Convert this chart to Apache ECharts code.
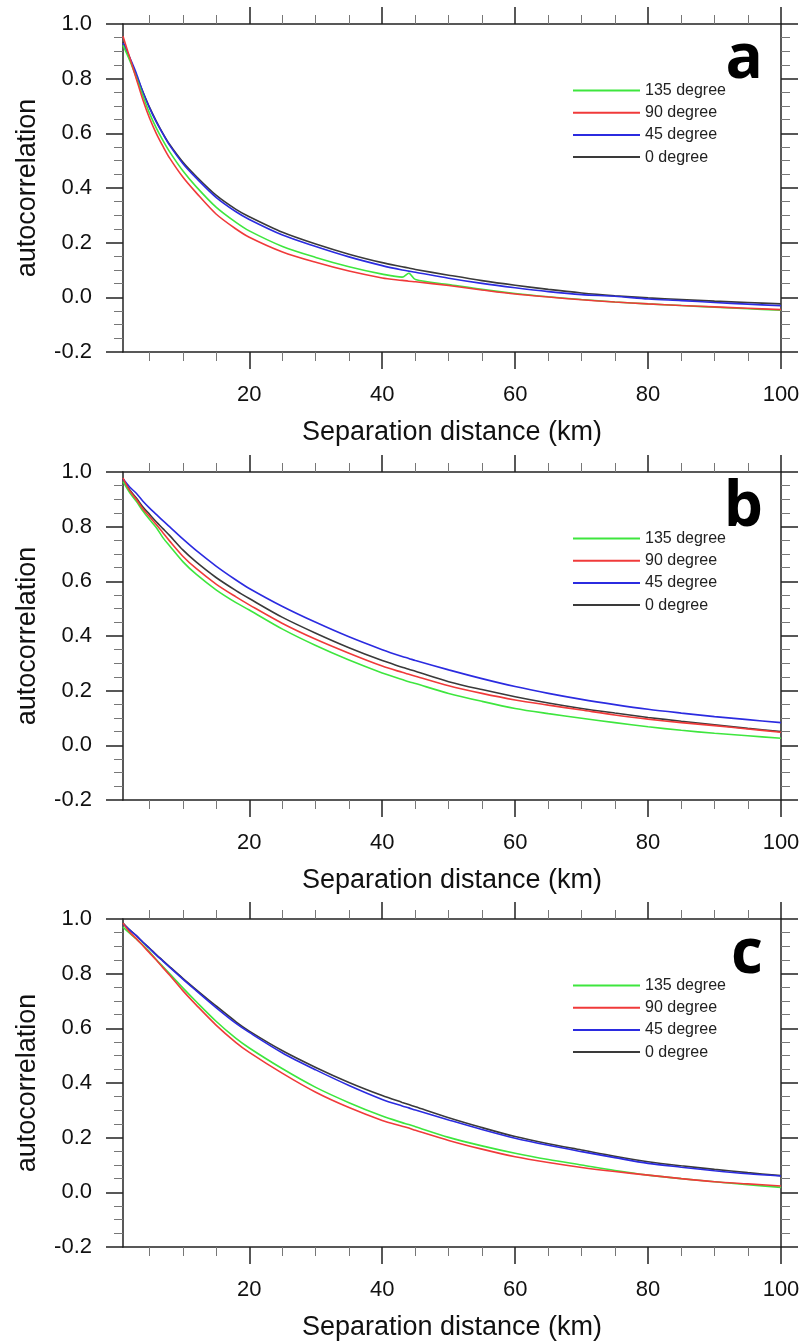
<!DOCTYPE html>
<html>
<head>
<meta charset="utf-8">
<script src="https://cdn.jsdelivr.net/npm/echarts@6/dist/echarts.min.js"></script>
<style>
  html, body { margin: 0; padding: 0; background: #fff; }
  #chart { width: 805px; height: 1344px; }
</style>
</head>
<body>
<div id="chart"></div>
<script>
// ---------------- data ----------------
const distanceKm = [1,2,3,4,5,6,7,8,10,12,15,18,20,25,30,35,40,43,44,45,50,55,60,65,70,75,80,85,90,95,100];

const seriesNames = ['135 degree', '90 degree', '45 degree', '0 degree'];
const panelLetters = ['a', 'b', 'c'];

const xMajorTicks = [20, 40, 60, 80, 100];
const xMinorTicks = [5, 10, 15, 25, 30, 35, 45, 50, 55, 65, 70, 75, 85, 90, 95];

// panel a
const a135 = [0.922,0.868,0.805,0.737,0.673,0.620,0.574,0.533,0.463,0.405,0.330,0.274,0.243,0.186,0.146,0.112,0.085,0.074,0.088,0.065,0.047,0.029,0.014,0.002,-0.008,-0.017,-0.024,-0.030,-0.036,-0.042,-0.047];
const a90  = [0.955,0.878,0.800,0.722,0.655,0.600,0.553,0.510,0.440,0.383,0.305,0.250,0.220,0.166,0.128,0.096,0.071,0.062,0.059,0.057,0.043,0.027,0.012,0.001,-0.009,-0.017,-0.024,-0.030,-0.035,-0.040,-0.045];
const a45  = [0.930,0.878,0.820,0.750,0.692,0.642,0.598,0.557,0.490,0.437,0.366,0.313,0.285,0.228,0.186,0.148,0.116,0.100,0.096,0.092,0.070,0.051,0.035,0.021,0.010,0.004,-0.006,-0.012,-0.019,-0.025,-0.031];
const a0   = [0.935,0.875,0.812,0.752,0.695,0.645,0.600,0.560,0.495,0.443,0.374,0.322,0.295,0.238,0.195,0.158,0.127,0.112,0.107,0.102,0.081,0.061,0.044,0.029,0.016,0.006,-0.002,-0.008,-0.014,-0.019,-0.024];

// panel b
const b135 = [0.965,0.925,0.893,0.857,0.826,0.797,0.760,0.730,0.672,0.626,0.569,0.522,0.495,0.425,0.365,0.312,0.265,0.241,0.233,0.226,0.190,0.161,0.135,0.116,0.099,0.083,0.068,0.055,0.044,0.035,0.026];
const b90  = [0.978,0.932,0.900,0.865,0.836,0.808,0.778,0.748,0.692,0.647,0.590,0.543,0.514,0.446,0.388,0.337,0.290,0.267,0.260,0.253,0.218,0.190,0.166,0.147,0.129,0.111,0.096,0.083,0.072,0.060,0.048];
const b45  = [0.975,0.945,0.922,0.893,0.868,0.845,0.822,0.800,0.755,0.713,0.656,0.605,0.574,0.508,0.450,0.397,0.350,0.325,0.318,0.310,0.276,0.244,0.215,0.190,0.168,0.149,0.132,0.118,0.105,0.094,0.083];
const b0   = [0.975,0.935,0.905,0.872,0.845,0.818,0.793,0.768,0.715,0.671,0.614,0.566,0.537,0.468,0.410,0.357,0.310,0.286,0.278,0.271,0.233,0.204,0.178,0.155,0.135,0.118,0.102,0.088,0.075,0.062,0.050];

// panel c
const c135 = [0.970,0.948,0.927,0.905,0.880,0.852,0.826,0.800,0.748,0.698,0.626,0.563,0.528,0.452,0.384,0.328,0.279,0.255,0.248,0.240,0.201,0.170,0.143,0.120,0.100,0.080,0.063,0.050,0.039,0.028,0.018];
const c90  = [0.985,0.952,0.928,0.902,0.876,0.850,0.822,0.795,0.738,0.686,0.612,0.548,0.512,0.435,0.366,0.310,0.263,0.242,0.235,0.227,0.190,0.158,0.130,0.109,0.091,0.076,0.063,0.050,0.039,0.031,0.023];
const c45  = [0.982,0.960,0.939,0.915,0.892,0.868,0.846,0.824,0.780,0.738,0.676,0.618,0.585,0.510,0.448,0.391,0.340,0.316,0.309,0.301,0.265,0.230,0.198,0.172,0.149,0.127,0.106,0.092,0.079,0.068,0.060];
const c0   = [0.985,0.960,0.939,0.915,0.893,0.870,0.848,0.826,0.783,0.742,0.682,0.624,0.590,0.518,0.457,0.402,0.354,0.329,0.321,0.313,0.273,0.237,0.204,0.178,0.155,0.132,0.112,0.097,0.084,0.072,0.061];

const panelValues = [
  [a135, a90, a45, a0],
  [b135, b90, b45, b0],
  [c135, c90, c45, c0]
];

// ---------------- styling ----------------
const colors = ['#3ee63e', '#f03a3a', '#2b2be0', '#3a3a3a'];
const FONT = 'Liberation Sans, Arial, Helvetica, sans-serif';
const AXIS_COLOR = '#222';
const MINOR_COLOR = '#777';
const panelTops = [24, 472, 919];
const GRID_LEFT = 123, GRID_WIDTH = 658, GRID_HEIGHT = 328;

const chart = echarts.init(document.getElementById('chart'), null, { renderer: 'canvas' });

const grid = [], xAxis = [], yAxis = [], series = [], legend = [], graphic = [];

panelTops.forEach((top, p) => {
  grid.push({ left: GRID_LEFT, top: top, width: GRID_WIDTH, height: GRID_HEIGHT, containLabel: false });

  const xBase = {
    gridIndex: p, type: 'value', min: 1, max: 100,
    splitLine: { show: false }, minorSplitLine: { show: false }
  };
  const xMainIndex = xAxis.length;
  // bottom, major
  xAxis.push(Object.assign({}, xBase, {
    position: 'bottom',
    axisLine: { show: true, onZero: false, lineStyle: { color: AXIS_COLOR, width: 1.5 } },
    axisTick: { show: true, customValues: xMajorTicks, length: 17, lineStyle: { color: AXIS_COLOR, width: 1.5 } },
    axisLabel: { show: true, customValues: xMajorTicks, margin: 32, fontSize: 22, color: '#111', fontFamily: FONT },
    name: 'Separation distance (km)', nameLocation: 'middle', nameGap: 67,
    nameTextStyle: { fontSize: 27, color: '#111', fontFamily: FONT }
  }));
  // bottom, minor
  xAxis.push(Object.assign({}, xBase, {
    position: 'bottom',
    axisLine: { show: false, onZero: false },
    axisTick: { show: true, customValues: xMinorTicks, length: 9, lineStyle: { color: MINOR_COLOR, width: 1 } },
    axisLabel: { show: false }
  }));
  // top, major
  xAxis.push(Object.assign({}, xBase, {
    position: 'top',
    axisLine: { show: true, onZero: false, lineStyle: { color: AXIS_COLOR, width: 1.5 } },
    axisTick: { show: true, customValues: xMajorTicks, length: 17, lineStyle: { color: AXIS_COLOR, width: 1.5 } },
    axisLabel: { show: false }
  }));
  // top, minor
  xAxis.push(Object.assign({}, xBase, {
    position: 'top',
    axisLine: { show: false, onZero: false },
    axisTick: { show: true, customValues: xMinorTicks, length: 9, lineStyle: { color: MINOR_COLOR, width: 1 } },
    axisLabel: { show: false }
  }));

  const yBase = {
    gridIndex: p, type: 'value', min: -0.2, max: 1.0, interval: 0.2,
    axisLine: { show: true, onZero: false, lineStyle: { color: AXIS_COLOR, width: 1.5 } },
    axisTick: { show: true, length: 17, lineStyle: { color: AXIS_COLOR, width: 1.5 } },
    minorTick: { show: true, splitNumber: 4, length: 9, lineStyle: { color: MINOR_COLOR, width: 1 } },
    splitLine: { show: false }, minorSplitLine: { show: false }
  };
  const yMainIndex = yAxis.length;
  yAxis.push(Object.assign({}, yBase, {
    position: 'left',
    axisLabel: { show: true, margin: 31, fontSize: 22, color: '#111', fontFamily: FONT,
                 formatter: v => v.toFixed(1) },
    name: 'autocorrelation', nameLocation: 'middle', nameGap: 82, nameRotate: 90,
    nameTextStyle: { fontSize: 27, color: '#111', fontFamily: FONT }
  }));
  yAxis.push(Object.assign({}, yBase, {
    position: 'right',
    axisLabel: { show: false }
  }));

  // series: draw black first, then the others on top
  const order = [3, 2, 0, 1];
  order.forEach(s => {
    series.push({
      name: seriesNames[s], type: 'line',
      xAxisIndex: xMainIndex, yAxisIndex: yMainIndex,
      data: distanceKm.map((d, k) => [d, panelValues[p][s][k]]),
      showSymbol: false, symbol: 'none', smooth: 0.3,
      lineStyle: { color: colors[s], width: 1.6 },
      itemStyle: { color: colors[s] },
      emphasis: { disabled: true },
      animation: false
    });
  });

  legend.push({
    orient: 'vertical', left: 568, top: top + 53.5,
    itemWidth: 67, itemHeight: 2, itemGap: 6.2,
    icon: 'rect', selectedMode: false,
    data: seriesNames.map((n, s) => ({ name: n, itemStyle: { color: colors[s] } })),
    textStyle: { fontSize: 16, color: '#222', fontFamily: FONT, lineHeight: 16 }
  });

  graphic.push({
    type: 'text',
    x: 763, y: top + 36.5,
    style: {
      text: panelLetters[p], fill: '#000',
      font: 'bold 62px "Open Sans", "DejaVu Sans", sans-serif',
      textAlign: 'right', textVerticalAlign: 'middle'
    },
    z: 100
  });
});

chart.setOption({
  animation: false,
  backgroundColor: '#fff',
  grid, xAxis, yAxis, series, legend, graphic
});
</script>
</body>
</html>
